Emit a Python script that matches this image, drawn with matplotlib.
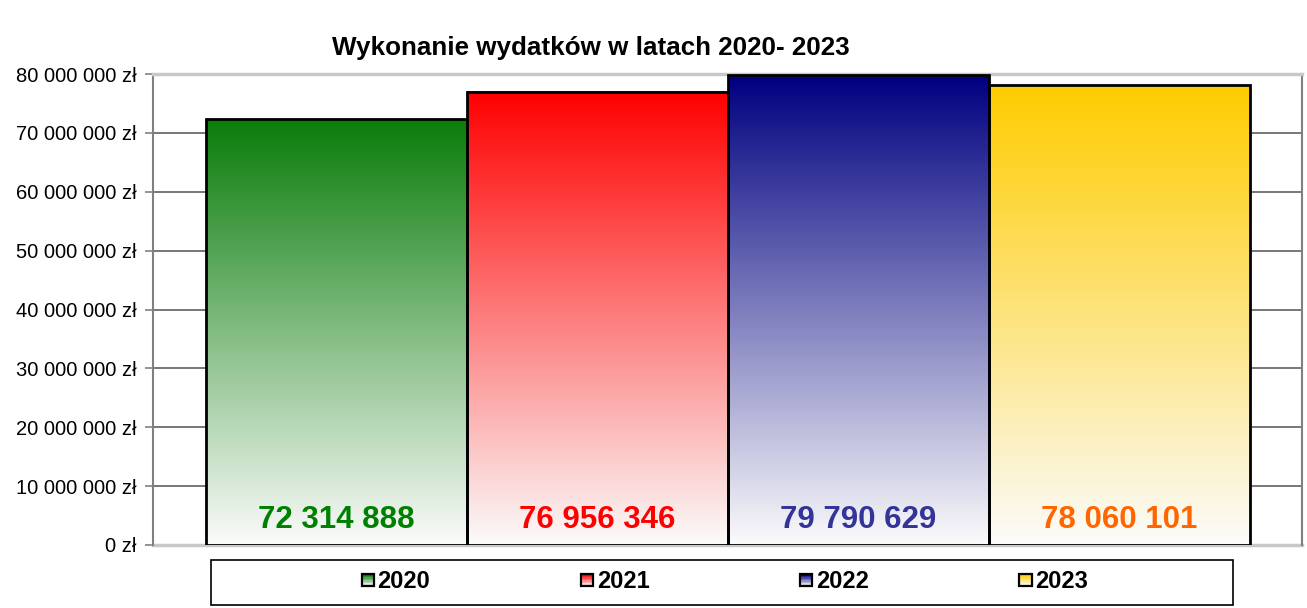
import numpy as np
import matplotlib
matplotlib.use("Agg")
import matplotlib.pyplot as plt
from matplotlib.patches import Rectangle
from matplotlib.legend_handler import HandlerBase
from matplotlib.colors import to_rgb
from matplotlib.ticker import FuncFormatter

plt.rcParams['font.family'] = ['Liberation Sans', 'DejaVu Sans']

# ---- data ----
years = ["2020", "2021", "2022", "2023"]
values = [72314888, 76956346, 79790629, 78060101]
label_texts = ["72 314 888", "76 956 346", "79 790 629", "78 060 101"]
bar_colors = ["#0a7d0a", "#ff0000", "#000080", "#ffcc00"]
label_colors = ["#008000", "#ff0000", "#333399", "#ff6600"]
title = "Wykonanie wydatków w latach 2020- 2023"
y_ticks = [0, 10e6, 20e6, 30e6, 40e6, 50e6, 60e6, 70e6, 80e6]

W, H = 1307, 608
fig = plt.figure(figsize=(W / 100, H / 100), dpi=100)
ax = fig.add_axes([153 / W, 1 - 545 / H, (1302 - 153) / W, (545 - 74) / H])

x = np.arange(len(years))
bars = ax.bar(x, values, width=1.0, facecolor="none", edgecolor="black",
              linewidth=2, zorder=3)

END = np.array([0.985, 0.985, 0.985])
for b, c in zip(bars, bar_colors):
    top = np.array(to_rgb(c))
    t = np.linspace(0, 1, 256)[:, None]  # 0 at top -> 1 at bottom
    grad = top[None, :] * (1 - t) + END[None, :] * t
    img = np.repeat(grad[:, None, :], 2, axis=1)
    x0, y0, w, h = b.get_x(), b.get_y(), b.get_width(), b.get_height()
    ax.imshow(img, extent=(x0, x0 + w, y0, y0 + h), aspect="auto",
              zorder=2, interpolation="bilinear")

for xi, txt, col in zip(x, label_texts, label_colors):
    ax.text(xi, 4.3e6, txt, ha="center", va="center", fontsize=22.5,
            fontweight="bold", color=col, zorder=4)

ax.set_xlim(-0.703, 3.699)
ax.set_ylim(0, 80e6)
ax.set_yticks(y_ticks)
ax.yaxis.set_major_formatter(FuncFormatter(
    lambda v, p: f"{int(v):,}".replace(",", " ") + " zł"))
ax.tick_params(axis="y", length=6, width=1.2, color="#808080", pad=6,
               labelsize=14.5)
ax.set_xticks([])
ax.grid(axis="y", color="#606060", linewidth=1.2, zorder=1)
ax.set_axisbelow(True)
for s in ["left", "right"]:
    ax.spines[s].set_color("#808080")
    ax.spines[s].set_linewidth(1.5)
for s in ["top", "bottom"]:
    ax.spines[s].set_color("#c8c8c8")
    ax.spines[s].set_linewidth(2.5)
ax.spines["bottom"].set_zorder(1)

fig.text(591 / W, 1 - 48 / H, title, ha="center", va="center",
         fontsize=18.7, fontweight="bold")


# ---- legend ----
class GradHandler(HandlerBase):
    def __init__(self, color):
        super().__init__()
        self.color = np.array(to_rgb(color))

    def create_artists(self, legend, orig_handle, xdescent, ydescent,
                       width, height, fontsize, trans):
        n = 8
        s = height * 0.75
        x0 = width - s
        y0 = (height - s) / 2 - ydescent
        arts = []
        for i in range(n):
            t = i / (n - 1)
            c = self.color * (1 - t) + END * t
            arts.append(Rectangle((x0, y0 + s - (i + 1) * s / n), s, s / n,
                                  facecolor=c, edgecolor="none",
                                  transform=trans))
        arts.append(Rectangle((x0, y0), s, s, facecolor="none",
                              edgecolor="black", linewidth=1.6,
                              transform=trans))
        return arts


handles = [Rectangle((0, 0), 1, 1) for _ in years]
hmap = {h: GradHandler(c) for h, c in zip(handles, bar_colors)}
leg = fig.legend(handles, years, loc="center",
                 bbox_to_anchor=(724 / W, 1 - 582 / H), ncol=4,
                 frameon=False, handler_map=hmap, handlelength=0.6,
                 handletextpad=0.15, columnspacing=6.3,
                 prop={"weight": "bold", "size": 17})

fig.patches.append(Rectangle((211 / W, 1 - 605 / H), (1233 - 211) / W,
                             45 / H, transform=fig.transFigure,
                             facecolor="none", edgecolor="black",
                             linewidth=1.2))

fig.savefig("out.png", dpi=100)
